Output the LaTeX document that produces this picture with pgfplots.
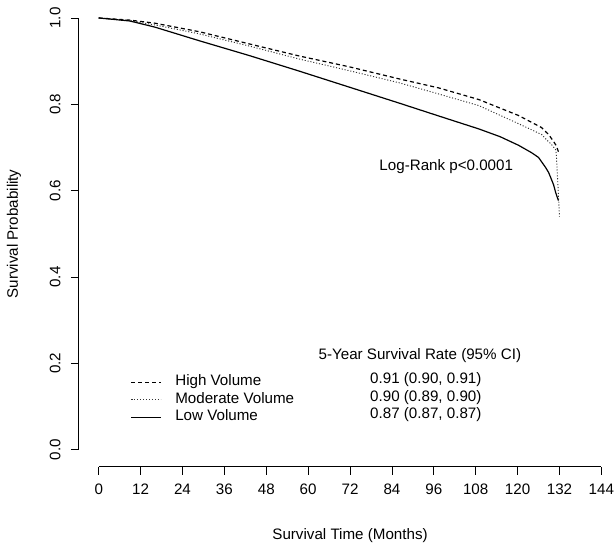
\documentclass[border=0pt]{standalone}
\usepackage{fontspec}
\setmainfont{Liberation Sans}
\usepackage{pgfplots}
\usepackage{pgfplotstable}
\pgfplotsset{compat=1.18}

% survival curves (months, probability)
\pgfplotstableread{
t s
0 1.000
8.9 0.995
16 0.988
28.9 0.968
43.1 0.940
57.4 0.912
71.7 0.887
86 0.859
97.4 0.838
108.9 0.811
120.3 0.774
126.9 0.746
128.9 0.730
130.3 0.714
131.1 0.704
131.7 0.690
}\highvol

\pgfplotstableread{
t s
0 1.000
8.9 0.994
16 0.984
28.9 0.963
43.1 0.935
57.4 0.905
71.7 0.878
86 0.850
97.4 0.824
108.9 0.797
120.3 0.755
126.9 0.730
128.3 0.718
129.7 0.707
130.9 0.695
131.1 0.684
131.4 0.637
131.7 0.591
132.0 0.540
}\modvol

\pgfplotstableread{
t s
0 1.000
8.9 0.993
16 0.979
28.9 0.947
43.1 0.913
57.4 0.877
71.7 0.840
86 0.803
97.4 0.773
108.9 0.743
115 0.725
120.3 0.705
124 0.688
126 0.677
128 0.654
128.9 0.642
130.3 0.614
130.9 0.596
131.7 0.577
}\lowvol

\begin{document}
\begin{tikzpicture}[font=\fontsize{11.4}{13.7}\selectfont]
\begin{axis}[
    scale only axis,
    width=401.25pt, height=350.25pt,
    xmin=-5.714, xmax=147.14,
    ymin=-0.0393, ymax=1.0393,
    axis x line*=bottom, axis y line*=left,
    axis line style={draw=none},
    tick align=outside,
    major tick length=6pt,
    tick style={black, line width=0.6pt},
    xtick={0,12,24,36,48,60,72,84,96,108,120,132,144},
    ytick={0,0.2,0.4,0.6,0.8,1},
    /pgf/number format/assume math mode=true,
    xticklabel style={inner sep=0pt, anchor=north},
    xticklabel shift=6.6pt,
    yticklabel style={rotate=90, anchor=south, inner sep=0pt,
        /pgf/number format/fixed, /pgf/number format/fixed zerofill,
        /pgf/number format/precision=1},
    yticklabel shift=7.5pt,
    xlabel={Survival Time (Months)},
    ylabel={Survival Probability},
    xlabel style={at={(rel axis cs:0.5084,-0.1488)}, anchor=center, inner sep=0pt},
    ylabel style={at={(rel axis cs:-0.1215,0.5)}, anchor=center, inner sep=0pt},
    clip=false,
    legend cell align=left,
    legend image code/.code={\draw[#1] (0pt,0pt) -- (22pt,0pt);},
    legend style={at={(axis cs:9.14,0.1767)}, anchor=north west,
        draw=none, fill=none, inner sep=0pt, column sep=10.5pt,
        row sep=0pt,
        nodes={inner sep=0pt, text height=9pt, text depth=4.1pt}},
]
\draw[black, line width=0.6pt] (axis cs:0,-0.0393) -- (axis cs:144,-0.0393);
\draw[black, line width=0.6pt] (axis cs:-5.714,0) -- (axis cs:-5.714,1);

\addplot[black, line width=0.9pt, dash pattern=on 3pt off 2.2pt] table[x=t, y=s] {\highvol};
\addlegendentry{High Volume}
\addplot[black!80, line width=0.7pt, dash pattern=on 0.8pt off 1.4pt] table[x=t, y=s] {\modvol};
\addlegendentry{Moderate Volume}
\addplot[black, line width=0.9pt] table[x=t, y=s] {\lowvol};
\addlegendentry{Low Volume}

\node at (axis cs:99.57,0.656) {Log-Rank p<0.0001};
\node at (axis cs:92.0,0.219) {5-Year Survival Rate (95\% CI)};
\node[anchor=west, inner sep=0pt] at (axis cs:77.7,0.1617) {0.91 (0.90, 0.91)};
\node[anchor=west, inner sep=0pt] at (axis cs:77.7,0.1212) {0.90 (0.89, 0.90)};
\node[anchor=west, inner sep=0pt] at (axis cs:77.7,0.0808) {0.87 (0.87, 0.87)};
\end{axis}
\path (-59.25pt,-56.25pt) rectangle (401.25pt,351pt);
\end{tikzpicture}
\end{document}
